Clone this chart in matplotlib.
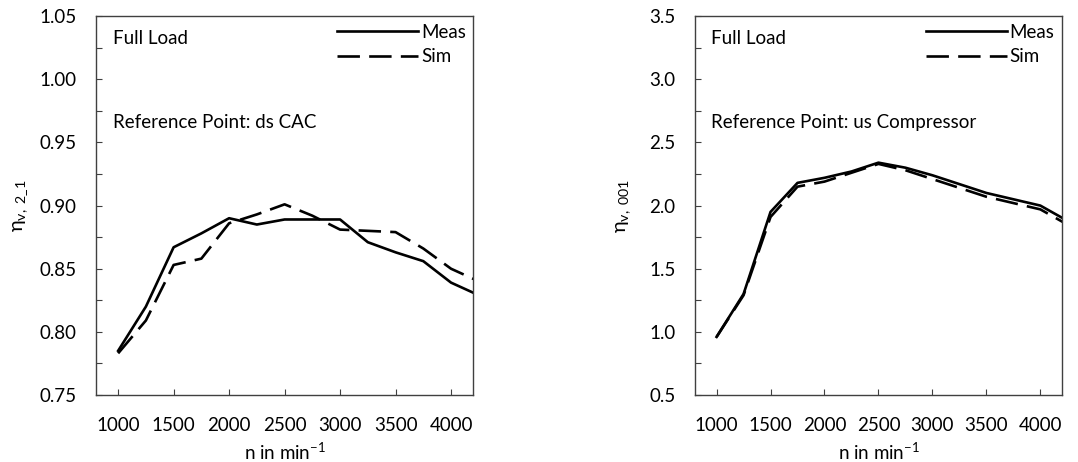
import numpy as np
import matplotlib
matplotlib.use('Agg')
import matplotlib.pyplot as plt

plt.rcParams['font.family'] = ['Lato', 'DejaVu Sans']
plt.rcParams['mathtext.fontset'] = 'custom'
plt.rcParams['mathtext.rm'] = 'Lato'
plt.rcParams['mathtext.it'] = 'Lato'

# engine speed in min^-1
speed = [1000, 1250, 1500, 1750, 2000, 2250, 2500, 2750, 3000, 3250, 3500, 3750, 4000, 4250]

# left: reference point ds CAC
meas_cac = [0.785, 0.820, 0.867, 0.878, 0.890, 0.885, 0.889, 0.889, 0.889, 0.871, 0.863, 0.856, 0.839, 0.829]
sim_cac = [0.783, 0.809, 0.853, 0.858, 0.886, 0.893, 0.901, 0.892, 0.881, 0.880, 0.879, 0.866, 0.850, 0.840]

# right: reference point us compressor
meas_comp = [0.96, 1.30, 1.95, 2.18, 2.22, 2.27, 2.34, 2.30, 2.24, 2.17, 2.10, 2.05, 2.00, 1.88]
sim_comp = [0.96, 1.29, 1.91, 2.15, 2.19, 2.26, 2.33, 2.28, 2.21, 2.14, 2.07, 2.02, 1.97, 1.85]

xticks = [1000, 1500, 2000, 2500, 3000, 3500, 4000]

fs = 13.5
lw = 1.9
dash = (8.5, 3.5)

fig = plt.figure(figsize=(10.78, 4.62), dpi=100)
ax1 = fig.add_axes([0.089, 0.145, 0.350, 0.820])
ax2 = fig.add_axes([0.6447, 0.145, 0.3404, 0.820])


def style_axes(ax, ylim, ystep, ref_text, ylabel, labelpad):
    ax.set_xlim(800, 4200)
    ax.set_ylim(*ylim)
    ax.set_xticks(xticks)
    ax.set_yticks(np.arange(ylim[0], ylim[1] + ystep / 2, ystep))
    ax.set_yticks(np.arange(ylim[0] + ystep / 2, ylim[1], ystep), minor=True)
    ax.tick_params(which='both', direction='in', length=4, width=0.8, color='#404040',
                   labelsize=fs, pad=14)
    ax.tick_params(axis='x', which='both', top=False, pad=16)
    ax.tick_params(axis='y', which='both', right=False)
    for sp in ax.spines.values():
        sp.set_linewidth(1.0)
        sp.set_color('#404040')
    ax.set_xlabel('n in min$^{-1}$', fontsize=fs, labelpad=5)
    ax.set_ylabel(ylabel, fontsize=fs + 1, labelpad=labelpad)
    ax.text(0.045, 0.94, 'Full Load', transform=ax.transAxes, fontsize=fs, va='center')
    ax.text(0.045, 0.72, ref_text, transform=ax.transAxes, fontsize=fs, va='center')
    leg = ax.legend(loc='upper right', bbox_to_anchor=(1.025, 1.025), frameon=False,
                    fontsize=fs, handlelength=4.3, handletextpad=0.15, labelspacing=0.4)
    return leg


ax1.plot(speed, meas_cac, color='black', lw=lw, label='Meas')
ax1.plot(speed, sim_cac, color='black', lw=lw, dashes=dash, label='Sim')
style_axes(ax1, (0.75, 1.05), 0.05, 'Reference Point: ds CAC', 'η$_{\\mathrm{v,\\ 2\\_1}}$', 7)
ax1.yaxis.set_major_formatter(matplotlib.ticker.FormatStrFormatter('%.2f'))

ax2.plot(speed, meas_comp, color='black', lw=lw, label='Meas')
ax2.plot(speed, sim_comp, color='black', lw=lw, dashes=dash, label='Sim')
style_axes(ax2, (0.5, 3.5), 0.5, 'Reference Point: us Compressor', 'η$_{\\mathrm{v,\\ 001}}$', 12)
ax2.yaxis.set_major_formatter(matplotlib.ticker.FormatStrFormatter('%.1f'))

fig.savefig('out.png', dpi=100)
